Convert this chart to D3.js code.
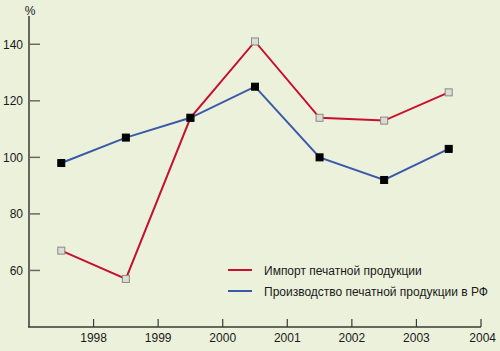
<!DOCTYPE html>
<html lang="ru">
<head>
<meta charset="UTF-8">
<title>Печатная продукция</title>
<style>
    body { margin: 0; background: #ecf1dc; }
    svg { display: block; font-family: "Liberation Sans", Arial, sans-serif; }
</style>
</head>
<body>
<script src="https://d3js.org/d3.v7.min.js"></script>
<script>
    const years = [1997.5, 1998.5, 1999.5, 2000.5, 2001.5, 2002.5, 2003.5];
    const importValues = [67, 57, 114, 141, 114, 113, 123];
    const productionValues = [98, 107, 114, 125, 100, 92, 103];
    const xTicks = [1998, 1999, 2000, 2001, 2002, 2003, 2004];
    const yTicks = [60, 80, 100, 120, 140];
    const seriesNames = ["Импорт печатной продукции", "Производство печатной продукции в РФ"];

    const width = 500, height = 351;
    const svg = d3.select("body").append("svg")
        .attr("width", width).attr("height", height);

    svg.append("rect").attr("width", width).attr("height", height).attr("fill", "#ecf1dc");

    const x = d3.scaleLinear().domain([1997, 2004]).range([29, 481]);
    const y = d3.scaleLinear().domain([40, 150]).range([327, 16]);

    const axisColor = "#3a3a34";

    // y axis
    svg.append("line")
        .attr("x1", 29).attr("x2", 29).attr("y1", 16).attr("y2", 327)
        .attr("stroke", axisColor).attr("stroke-width", 1.5);
    svg.selectAll(".ytick").data(yTicks).enter().append("line")
        .attr("x1", 29).attr("x2", 40)
        .attr("y1", d => y(d)).attr("y2", d => y(d))
        .attr("stroke", "#6a6a60").attr("stroke-width", 1.5);
    svg.selectAll(".ylab").data(yTicks).enter().append("text")
        .attr("x", 23).attr("y", d => y(d) + 4.5)
        .attr("text-anchor", "end").attr("font-size", 12).attr("fill", "#1a1a1a")
        .text(d => d);
    svg.append("text").attr("x", 30).attr("y", 15)
        .attr("text-anchor", "middle").attr("font-size", 12).attr("fill", "#1a1a1a")
        .text("%");

    // x axis
    svg.append("line")
        .attr("x1", 28).attr("x2", 481).attr("y1", 327).attr("y2", 327)
        .attr("stroke", axisColor).attr("stroke-width", 1.5);
    svg.selectAll(".xtick").data(xTicks).enter().append("line")
        .attr("x1", d => x(d)).attr("x2", d => x(d))
        .attr("y1", 327).attr("y2", 319)
        .attr("stroke", axisColor).attr("stroke-width", 1.2);
    svg.selectAll(".xlab").data(xTicks).enter().append("text")
        .attr("x", d => x(d)).attr("y", 342)
        .attr("text-anchor", d => d === 2004 ? "end" : "middle")
        .attr("dx", d => d === 2004 ? 15 : 0)
        .attr("font-size", 12).attr("fill", "#1a1a1a")
        .text(d => d);

    const line = d3.line().x((d, i) => x(years[i])).y(d => y(d));

    const series = [
        { values: importValues, color: "#c8102e", fill: "#dcdcd4", stroke: "#8a8a84" },
        { values: productionValues, color: "#3a5aa8", fill: "#000000", stroke: "#000000" }
    ];

    series.forEach(s => {
        svg.append("path").datum(s.values)
            .attr("d", line).attr("fill", "none")
            .attr("stroke", s.color).attr("stroke-width", 2);
    });
    series.forEach(s => {
        svg.selectAll(null).data(s.values).enter().append("rect")
            .attr("x", (d, i) => x(years[i]) - 3.5)
            .attr("y", d => y(d) - 3.5)
            .attr("width", 7).attr("height", 7)
            .attr("fill", s.fill).attr("stroke", s.stroke).attr("stroke-width", 1);
    });

    // legend
    const legend = svg.append("g");
    seriesNames.forEach((name, i) => {
        const ly = 270 + i * 21;
        legend.append("line")
            .attr("x1", 228).attr("x2", 252).attr("y1", ly).attr("y2", ly)
            .attr("stroke", series[i].color).attr("stroke-width", 2);
        legend.append("text")
            .attr("x", 264).attr("y", ly + 4.5)
            .attr("font-size", 12).attr("fill", "#1a1a1a")
            .text(name);
    });
</script>
</body>
</html>
